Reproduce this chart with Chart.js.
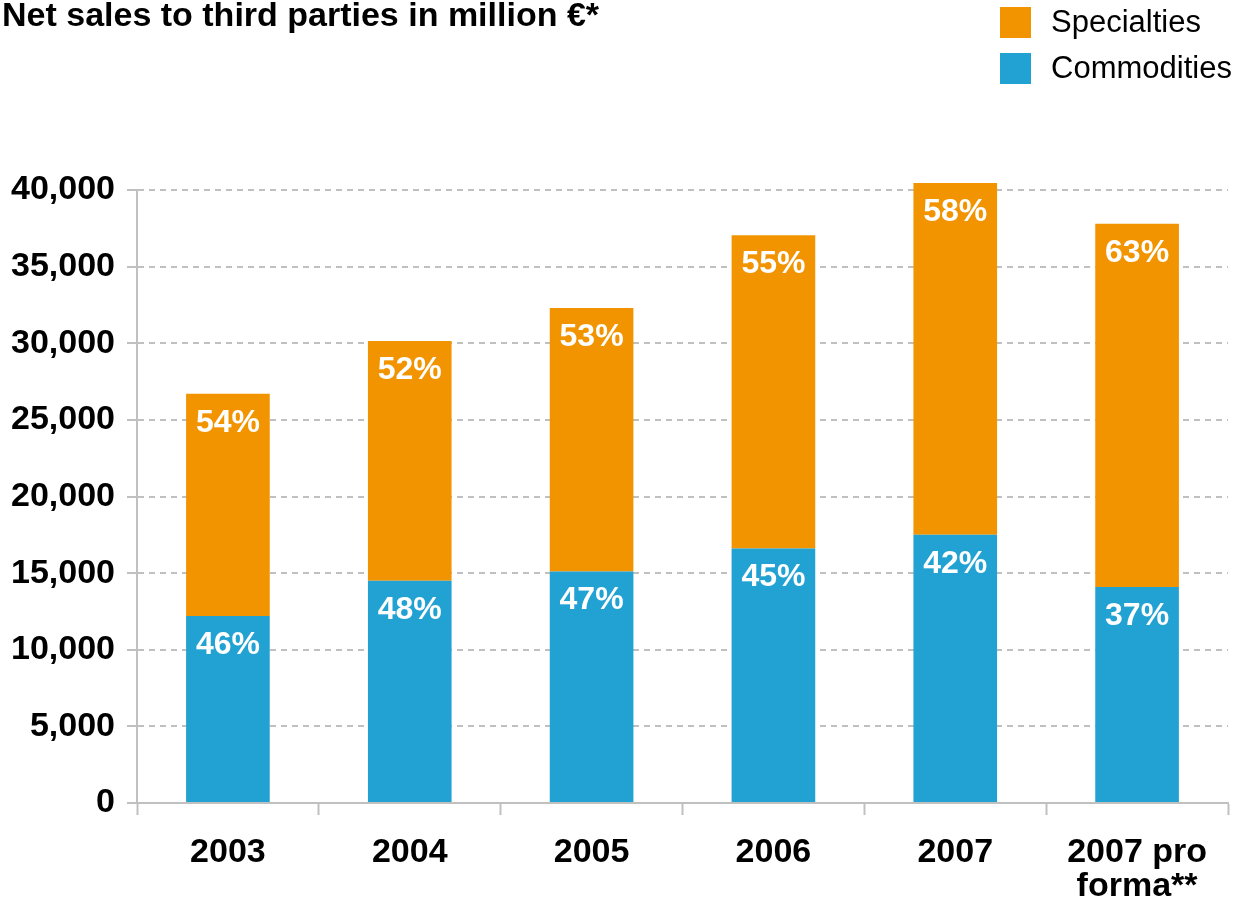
<!DOCTYPE html>
<html>
<head>
<meta charset="utf-8">
<script src="https://cdn.jsdelivr.net/npm/chart.js@4"></script>
<style>
  html, body { margin: 0; padding: 0; background: #fff; }
  canvas { display: block; }
</style>
</head>
<body>
<canvas id="salesChart" width="1241" height="902"></canvas>
<script>
// values (million €)
const years = ["2003", "2004", "2005", "2006", "2007", ["2007 pro", "forma**"]];
const commodities = [12200, 14500, 15100, 16600, 17500, 14100];
const specialties = [14500, 15650, 17200, 20450, 22950, 23700];
const commodityPct = ["46%", "48%", "47%", "45%", "42%", "37%"];
const specialtyPct = ["54%", "52%", "53%", "55%", "58%", "63%"];
const yTicks = [0, 5000, 10000, 15000, 20000, 25000, 30000, 35000, 40000];

const ORANGE = "#F29400";
const BLUE = "#22A1D3";
const GREY = "#c0c0c0";
const FONT = "'Liberation Sans', Arial, sans-serif";

// percentage labels inside each segment
const pctLabels = {
  id: "pctLabels",
  afterDatasetsDraw(chart) {
    const ctx = chart.ctx;
    const texts = [commodityPct, specialtyPct];
    ctx.save();
    ctx.fillStyle = "#fff";
    ctx.font = "bold 32px " + FONT;
    ctx.textAlign = "center";
    ctx.textBaseline = "middle";
    chart.data.datasets.forEach((ds, i) => {
      chart.getDatasetMeta(i).data.forEach((bar, j) => {
        ctx.fillText(texts[i][j], bar.x, bar.y + 29);
      });
    });
    ctx.restore();
  },
};

// title top-left and legend top-right
const header = {
  id: "header",
  afterDraw(chart) {
    const ctx = chart.ctx;
    ctx.save();
    ctx.fillStyle = "#000";
    ctx.font = "bold 34px " + FONT;
    ctx.textAlign = "left";
    ctx.textBaseline = "alphabetic";
    ctx.fillText("Net sales to third parties in million €*", 2, 26);

    const items = [
      { label: "Specialties", color: ORANGE, y: 7 },
      { label: "Commodities", color: BLUE, y: 53 },
    ];
    ctx.font = "31px " + FONT;
    ctx.textBaseline = "middle";
    items.forEach((it) => {
      ctx.fillStyle = it.color;
      ctx.fillRect(1000, it.y, 31, 31);
      ctx.fillStyle = "#000";
      ctx.fillText(it.label, 1051, it.y + 16);
    });
    ctx.restore();
  },
};

const ctx = document.getElementById("salesChart").getContext("2d");
const salesChart = new Chart(ctx, {
  type: "bar",
  data: {
    labels: years,
    datasets: [
      {
        label: "Commodities",
        data: commodities,
        backgroundColor: BLUE,
        borderWidth: 0,
        clip: false,
      },
      {
        label: "Specialties",
        data: specialties,
        backgroundColor: ORANGE,
        borderWidth: 0,
        clip: false,
      },
    ],
  },
  options: {
    responsive: false,
    animation: false,
    layout: { padding: { top: 190, right: 13, left: 0, bottom: 0 } },
    datasets: {
      bar: { barPercentage: 0.46, categoryPercentage: 1 },
    },
    plugins: {
      legend: { display: false },
      tooltip: { enabled: false },
    },
    scales: {
      x: {
        stacked: true,
        grid: {
          display: true,
          offset: true,
          drawOnChartArea: false,
          drawTicks: true,
          tickLength: 12,
          tickColor: GREY,
          tickWidth: 2,
        },
        border: { display: true, color: GREY, width: 2 },
        ticks: {
          color: "#000",
          font: { family: FONT, size: 34, weight: "bold", lineHeight: 1.02 },
          padding: 20,
          maxRotation: 0,
          autoSkip: false,
        },
        afterFit: (s) => { s.height = 99; },
      },
      y: {
        stacked: true,
        min: 0,
        max: 40000,
        afterBuildTicks: (s) => { s.ticks = yTicks.map((v) => ({ value: v })); },
        grid: {
          color: GREY,
          lineWidth: 2,
          drawTicks: true,
          tickLength: 10,
          tickColor: GREY,
          tickWidth: 2,
        },
        border: { display: true, color: GREY, width: 2, dash: [6, 5] },
        ticks: {
          color: "#000",
          font: { family: FONT, size: 34, weight: "bold" },
          padding: 12,
          callback: (v) => v.toLocaleString("en-US"),
        },
        afterFit: (s) => { s.width = 137; },
      },
    },
  },
  plugins: [pctLabels, header],
});
</script>
</body>
</html>
